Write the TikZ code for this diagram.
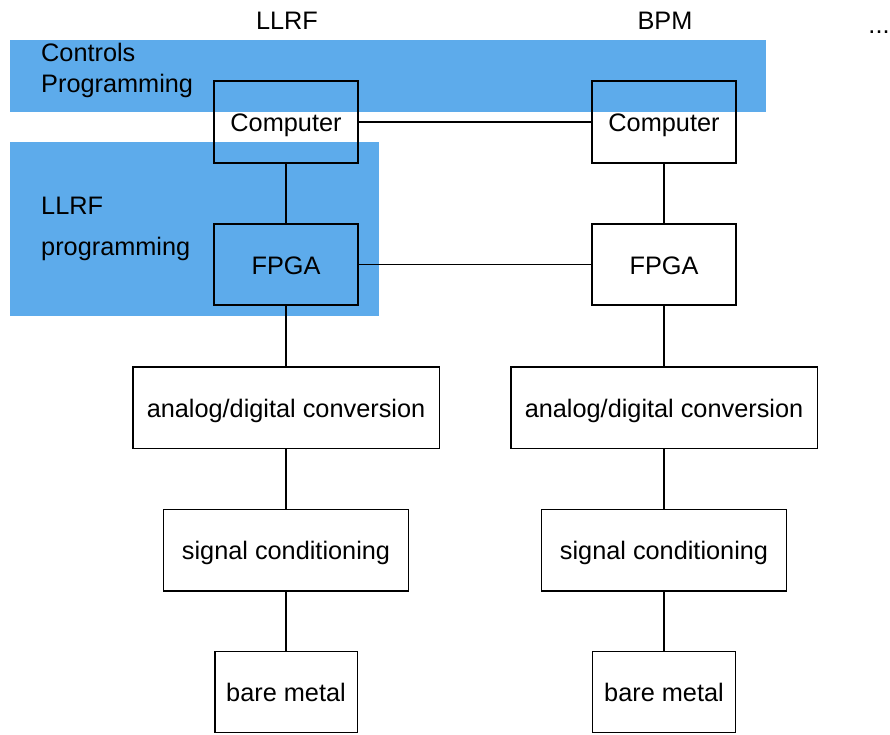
\documentclass[tikz,border=0pt]{standalone}
\usepackage{fontspec}
\setmainfont{Liberation Sans}
\definecolor{ctlblue}{HTML}{5DABEB}
\begin{document}
\begin{tikzpicture}[x=1pt,y=-1pt,
  txt/.style={font=\fontsize{25.3}{30}\selectfont, inner sep=0pt},
  box/.style={txt, draw=black, line width=1.5pt, text height=19.6pt, text depth=0pt, anchor=center},
  lbl/.style={txt, anchor=base west},
  conn/.style={draw=black, line width=1.5pt}]
\useasboundingbox (0,0) rectangle (890,734);
\fill[ctlblue] (10,40) rectangle (766,112);
\fill[ctlblue] (10,142) rectangle (379,316);
\node[lbl] (ctl1) at (41,61) {Controls};
\node[lbl] (ctl2) at (41,92) {Programming};
\node[lbl] (ll1) at (41,214) {LLRF};
\node[lbl] (ll2) at (41,255) {programming};
\node[txt, anchor=base] (hL) at (287,29) {LLRF};
\node[txt, anchor=base] (hR) at (665,29) {BPM};
\node[txt, anchor=base] (dots) at (879,33) {...};
% left column
\node[box, minimum width=144pt, minimum height=82pt] (compL) at (286,122) {Computer};
\node[box, minimum width=144pt, minimum height=81pt] (fpgaL) at (286,264.5) {FPGA};
\node[box, minimum width=306.5pt, minimum height=81.5pt] (adcL) at (286,407.5) {analog/digital conversion};
\node[box, minimum width=245pt, minimum height=81.5pt] (sigL) at (286,550) {signal conditioning};
\node[box, minimum width=142.5pt, minimum height=81pt] (bareL) at (286,692) {bare metal};
% right column
\node[box, minimum width=144pt, minimum height=82pt] (compR) at (664,122) {Computer};
\node[box, minimum width=144pt, minimum height=81pt] (fpgaR) at (664,264.5) {FPGA};
\node[box, minimum width=306.5pt, minimum height=81.5pt] (adcR) at (664,407.5) {analog/digital conversion};
\node[box, minimum width=245pt, minimum height=81.5pt] (sigR) at (664,550) {signal conditioning};
\node[box, minimum width=143pt, minimum height=81pt] (bareR) at (664,692) {bare metal};
% connectors
\draw[conn] (compL) -- (compR);
\draw[conn] (fpgaL) -- (fpgaR);
\draw[conn] (compL) -- (fpgaL);
\draw[conn] (fpgaL) -- (adcL);
\draw[conn] (adcL) -- (sigL);
\draw[conn] (sigL) -- (bareL);
\draw[conn] (compR) -- (fpgaR);
\draw[conn] (fpgaR) -- (adcR);
\draw[conn] (adcR) -- (sigR);
\draw[conn] (sigR) -- (bareR);
\end{tikzpicture}
\end{document}
